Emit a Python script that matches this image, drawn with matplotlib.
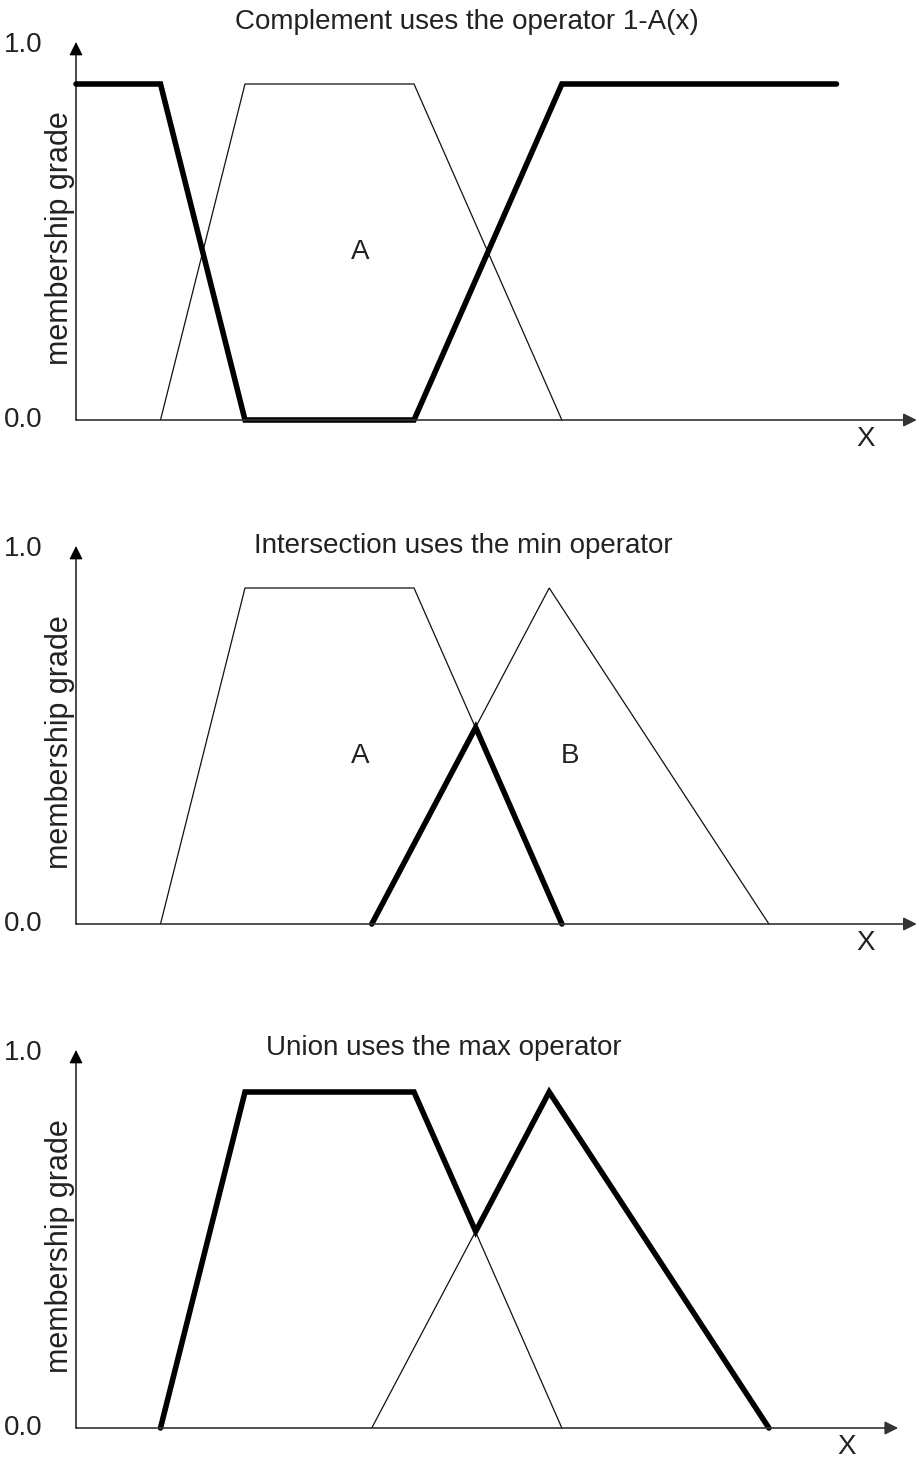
import matplotlib
matplotlib.use("Agg")
import matplotlib.pyplot as plt

plt.rcParams["font.family"] = ["Liberation Sans", "DejaVu Sans"]

# --- data (x in arbitrary units, y = membership grade) ---
a_x = [10, 20, 40, 57.5]
a_y = [0, 1, 1, 0]

b_x = [35, 56, 82]
b_y = [0, 1, 0]

comp_x = [0, 10, 20, 40, 57.5, 90]
comp_y = [1, 1, 0, 0, 1, 1]

inter_x = [35, 47.3, 57.5]
inter_y = [0, 0.585, 0]

union_x = [10, 20, 40, 47.3, 56, 82]
union_y = [0, 1, 1, 0.585, 1, 0]

titles = ["Complement uses the operator 1-A(x)",
          "Intersection uses the min operator",
          "Union uses the max operator"]

# panel layout in pixels: baseline y, x-arrow end, title x
W, H = 919, 1460
x0_px, kx = 76, 8.45       # px per x unit
ky = 336                   # px per 1.0 membership
base_px = [420, 924, 1428]
arrow_end = [99.5, 99.5, 97.3]
title_xy = [(46.2, 1.185), (45.8, 1.125), (43.5, 1.13)]
xlab_x = [93.5, 93.5, 91.2]

TXT = "#222222"
AX = "#333333"
FS = 20

fig = plt.figure(figsize=(W / 100, H / 100), dpi=100)

axes = []
for i in range(3):
    xlim = (0, 100)
    ylim = (0, 1.2)
    left = x0_px / W
    width = (xlim[1] - xlim[0]) * kx / W
    bottom = (H - base_px[i]) / H
    height = (ylim[1] - ylim[0]) * ky / H
    ax = fig.add_axes([left, bottom, width, height])
    ax.set_xlim(*xlim)
    ax.set_ylim(*ylim)
    ax.axis("off")
    axes.append(ax)

    # axes with arrow heads
    ax.annotate("", xy=(arrow_end[i], 0), xytext=(0, 0),
                arrowprops=dict(arrowstyle="-|>", color=AX, lw=1.2,
                                mutation_scale=20, shrinkA=0, shrinkB=0),
                annotation_clip=False)
    ax.annotate("", xy=(0, 1.125), xytext=(0, 0),
                arrowprops=dict(arrowstyle="-|>", color="black", lw=1.0,
                                mutation_scale=20, shrinkA=0, shrinkB=0),
                annotation_clip=False)

    ax.text(-6.3, 1.115, "1.0", ha="center", va="center", fontsize=FS,
            color=TXT, clip_on=False)
    ax.text(-6.3, 0.0, "0.0", ha="center", va="center", fontsize=FS,
            color=TXT, clip_on=False)
    ax.text(-1.9, 0.54, "membership grade", rotation=90, ha="center",
            va="center", fontsize=22, color=TXT, clip_on=False)
    ax.text(xlab_x[i], -0.057, "X", ha="center", va="center", fontsize=FS,
            color=TXT, clip_on=False)
    ax.text(title_xy[i][0], title_xy[i][1], titles[i], ha="center",
            va="center", fontsize=FS, color=TXT, clip_on=False)

thin = dict(color="#111111", lw=0.9, clip_on=False, solid_joinstyle="miter")
bold = dict(color="black", lw=4.0, clip_on=False, solid_capstyle="round",
            solid_joinstyle="miter")

# complement
ax = axes[0]
ax.plot(a_x, a_y, **thin)
ax.plot(comp_x, comp_y, **bold)
ax.text(33.6, 0.50, "A", ha="center", va="center", fontsize=FS, color=TXT)

# intersection
ax = axes[1]
ax.plot(a_x, a_y, **thin)
ax.plot(b_x, b_y, **thin)
ax.plot(inter_x, inter_y, **bold)
ax.text(33.6, 0.50, "A", ha="center", va="center", fontsize=FS, color=TXT)
ax.text(58.5, 0.50, "B", ha="center", va="center", fontsize=FS, color=TXT)

# union
ax = axes[2]
ax.plot(a_x, a_y, **thin)
ax.plot(b_x, b_y, **thin)
ax.plot(union_x, union_y, **bold)

fig.savefig("out.png", dpi=100, facecolor="white")
